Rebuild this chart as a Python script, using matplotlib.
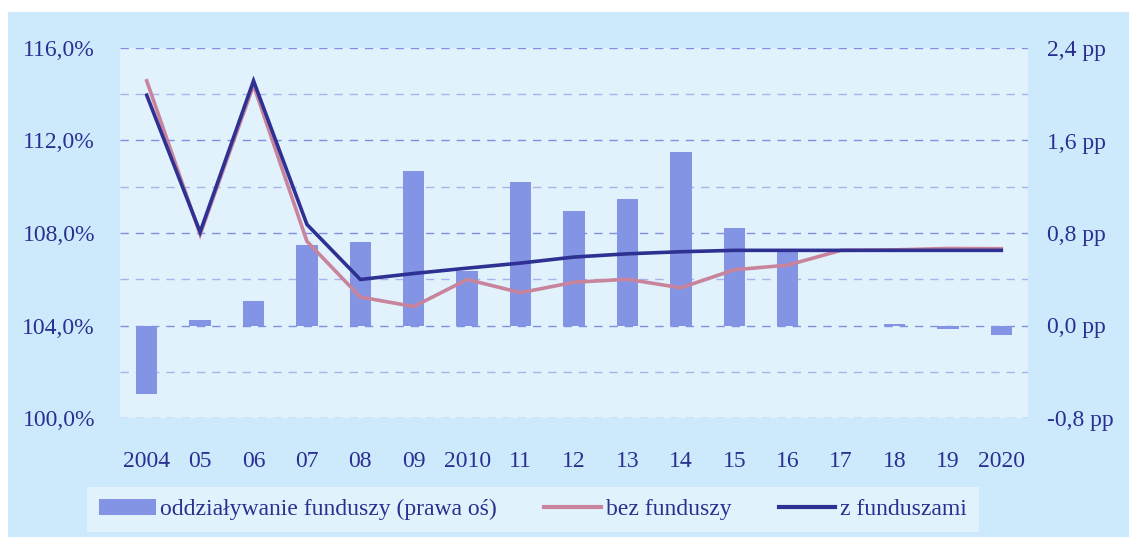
import matplotlib.pyplot as plt
import numpy as np
from matplotlib.patches import Rectangle, Patch
from matplotlib.lines import Line2D

# dane
lata = ['2004', '05', '06', '07', '08', '09', '2010', '11', '12', '13', '14', '15', '16', '17', '18', '19', '2020']
oddzialywanie = [-0.59, 0.05, 0.21, 0.70, 0.72, 1.34, 0.47, 1.24, 0.99, 1.09, 1.50, 0.84, 0.66, 0.0, 0.01, -0.03, -0.08]
bez_funduszy = [114.58, 107.94, 114.39, 107.64, 105.23, 104.82, 105.99, 105.42, 105.87, 106.00, 105.63, 106.41, 106.61, 107.25, 107.27, 107.33, 107.32]
z_funduszami = [113.96, 108.04, 114.58, 108.37, 105.99, 106.25, 106.48, 106.70, 106.96, 107.10, 107.19, 107.25, 107.25, 107.25, 107.25, 107.25, 107.25]

lewe_ticki = [100, 104, 108, 112, 116]
prawe_ticki = [-0.8, 0.0, 0.8, 1.6, 2.4]

kolor_tekstu = '#2b2f8f'
kolor_slupkow = '#8494e4'
kolor_bez = '#c8849c'
kolor_z = '#2e3192'
tlo = '#cdeafd'
tlo_wykresu = '#e2f2fc'

plt.rcParams['font.family'] = ['Liberation Serif', 'DejaVu Serif']

fig = plt.figure(figsize=(11.29, 5.37), dpi=100)
fig.patch.set_facecolor('white')
fig.patches.append(Rectangle((8 / 1129, 0), 1, (537 - 12) / 537, transform=fig.transFigure,
                             facecolor=tlo, edgecolor='none', zorder=-10))

ax = fig.add_axes([120 / 1129, (537 - 418) / 537, 908 / 1129, 370 / 537])
ax.set_facecolor(tlo_wykresu)
ax2 = ax.twinx()
ax2.patch.set_visible(False)
x = np.arange(len(lata))

# slupki - prawa os
ax.bar(x, oddzialywanie, width=0.4, color=kolor_slupkow, zorder=2)
ax.set_ylim(-0.8, 2.4)
ax.set_xlim(-0.5, len(lata) - 0.5)
ax.set_yticks(prawe_ticki)
ax.set_yticks([-0.4, 0.4, 1.2, 2.0], minor=True)
ax.set_yticklabels([('%.1f pp' % v).replace('.', ',') for v in prawe_ticki])
ax.grid(axis='y', which='major', color='#8090e0', linestyle=(0, (6, 5)), linewidth=1.0, zorder=1)
ax.grid(axis='y', which='minor', color='#a8b2ec', linestyle=(0, (6, 5)), linewidth=1.0, zorder=1)
ax.set_axisbelow(True)
ax.set_xticks(x)
ax.set_xticklabels(lata)
ax.tick_params(axis='x', length=0, pad=24, labelsize=17, labelcolor=kolor_tekstu)

# linie - lewa os
ax2.plot(x, bez_funduszy, color=kolor_bez, linewidth=2.6, solid_joinstyle='miter')
ax2.plot(x, z_funduszami, color=kolor_z, linewidth=2.6, solid_joinstyle='miter')
ax2.set_ylim(100, 116)
ax2.set_yticks(lewe_ticki)
ax2.set_yticklabels([('%.1f%%' % v).replace('.', ',') for v in lewe_ticki])

# zamiana stron osi: slupki po prawej, linie po lewej
ax.yaxis.tick_right()
ax2.yaxis.tick_left()
ax.tick_params(axis='y', which='both', length=0, pad=14, labelsize=17, labelcolor=kolor_tekstu)
ax2.tick_params(axis='y', which='both', length=0, pad=18, labelsize=17, labelcolor=kolor_tekstu)

for a in (ax, ax2):
    for s in a.spines.values():
        s.set_visible(False)

uchwyty = [Patch(facecolor=kolor_slupkow, edgecolor='none'),
           Line2D([], [], color=kolor_bez, linewidth=3),
           Line2D([], [], color=kolor_z, linewidth=3)]
opisy = ['oddziaływanie funduszy (prawa oś)', 'bez funduszy', 'z funduszami']
leg = fig.legend(uchwyty, opisy, loc='center', bbox_to_anchor=(0.472, 0.051), ncol=3,
                 frameon=True, fancybox=False, facecolor=tlo_wykresu, edgecolor='none',
                 fontsize=17, handlelength=2.4, handleheight=0.7, handletextpad=0.2,
                 columnspacing=2.0, borderpad=0.5, labelcolor=kolor_tekstu, framealpha=1)

fig.savefig('out.png', dpi=100, facecolor='white')
